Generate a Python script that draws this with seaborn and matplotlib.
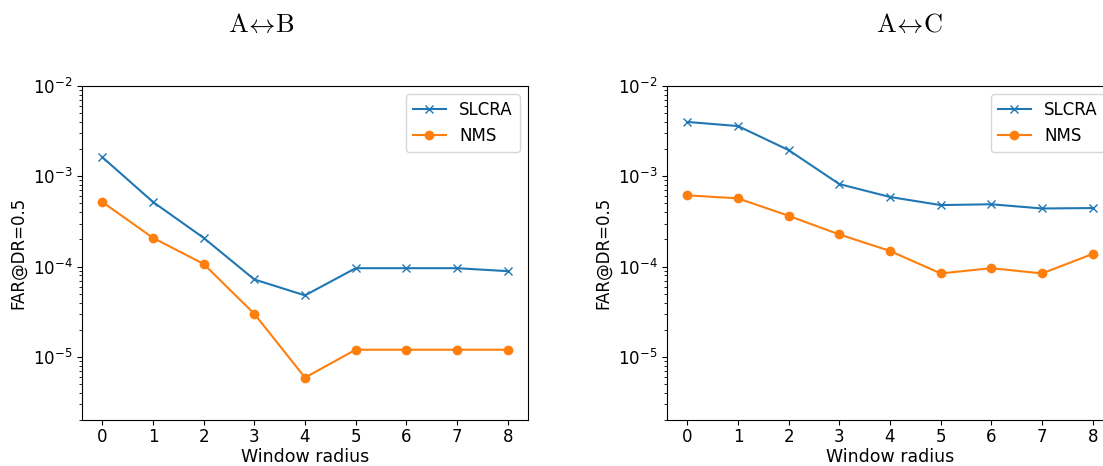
import numpy as np
import pandas as pd
import seaborn as sns
import matplotlib
matplotlib.use('Agg')
import matplotlib.pyplot as plt

plt.rcParams['font.size'] = 12
plt.rcParams['mathtext.fontset'] = 'cm'

# Data
radius = [0, 1, 2, 3, 4, 5, 6, 7, 8]

slcra_ab = [1.63e-3, 5.2e-4, 2.08e-4, 7.2e-5, 4.8e-5, 9.6e-5, 9.6e-5, 9.6e-5, 8.9e-5]
nms_ab = [5.2e-4, 2.08e-4, 1.07e-4, 3.0e-5, 5.9e-6, 1.2e-5, 1.2e-5, 1.2e-5, 1.2e-5]

slcra_ac = [4.0e-3, 3.6e-3, 1.95e-3, 8.2e-4, 5.9e-4, 4.8e-4, 4.9e-4, 4.4e-4, 4.45e-4]
nms_ac = [6.15e-4, 5.7e-4, 3.65e-4, 2.27e-4, 1.49e-4, 8.4e-5, 9.6e-5, 8.4e-5, 1.38e-4]

titles = [r'$\mathrm{A}\!\leftrightarrow\!\mathrm{B}$', r'$\mathrm{A}\!\leftrightarrow\!\mathrm{C}$']
title_x = [261.5, 909.5]

W, H = 1103, 466
fig = plt.figure(figsize=(W / 100, H / 100), dpi=100)

# right panel runs past the figure edge, as in the reference
ax_left = fig.add_axes([82 / W, 46 / H, 446 / W, 334 / H])
ax_right = fig.add_axes([667 / W, 46 / H, 446 / W, 334 / H])

panels = [(ax_left, slcra_ab, nms_ab), (ax_right, slcra_ac, nms_ac)]

for i, (ax, slcra, nms) in enumerate(panels):
    sns.lineplot(x=radius, y=slcra, ax=ax, color='#1f77b4', marker='x',
                 markersize=6, markeredgecolor='#1f77b4', markeredgewidth=1.0,
                 linewidth=1.5, label='SLCRA')
    sns.lineplot(x=radius, y=nms, ax=ax, color='#ff7f0e', marker='o',
                 markersize=6, markeredgecolor='#ff7f0e', markeredgewidth=1.0,
                 linewidth=1.5, label='NMS')
    ax.set_yscale('log')
    ax.set_ylim(2e-6, 1e-2)
    ax.set_xlim(-0.4, 8.4)
    ax.set_xticks(radius)
    ax.tick_params(axis='x', pad=2)
    ax.set_xlabel('Window radius', labelpad=2, fontsize=12.5)
    ax.set_ylabel('FAR@DR=0.5')
    ax.legend(loc='upper right', fontsize=12)
    fig.text(title_x[i] / W, 1 - 32 / H, titles[i], ha='center', va='baseline',
             fontsize=19)

fig.savefig('out.png', dpi=100)
